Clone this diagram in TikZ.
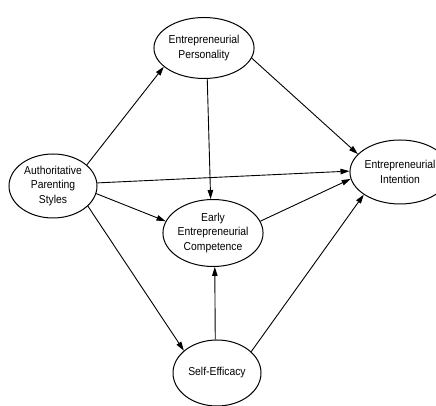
\documentclass[tikz,border=0pt]{standalone}
\usepackage{fontspec}
\setmainfont[FakeStretch=0.9]{Liberation Sans}
\usetikzlibrary{arrows.meta}
\usepgflibrary{shapes.geometric}
\usetikzlibrary{positioning}

\begin{document}
\begin{tikzpicture}
  [x=1pt, y=1pt,
  latent/.style={shape=ellipse, draw=black, line width=1pt,
         inner sep=0pt, minimum width=88pt, minimum height=64pt,
         align=center, font=\fontsize{11.5}{14.5}\selectfont},
  >={Triangle[length=9pt, width=5.5pt]}
  ]
  \useasboundingbox (0,0) rectangle (436,406);
  \clip (0,0) rectangle (436,406);
 \path
   (53, 220)   node (aps)  [latent] {Authoritative\\Parenting\\Styles}
   (204, 358)  node (ep)   [latent, minimum height=61pt] {Entrepreneurial\\Personality}
   (213, 173)  node (eec)  [latent, minimum height=67pt] {Early\\Entrepreneurial\\Competence}
   (217, 33)   node (se)   [latent, minimum height=66pt] {Self-Efficacy}
   (400, 234)  node (ei)   [latent] {Entrepreneurial\\Intention}
   ;
   \begin{scope}[line width=0.9pt]
   \draw [->] (aps.32)  to (ep.205);
   \draw [->] (ep.-12)  to (ei.157);
   \draw [->] (ep.-84)  to (eec.94);
   \draw [->] (aps.4)   to (ei.179);
   \draw [->] (aps.-10) to (eec.166);
   \draw [->] (eec.14)  to (ei.188);
   \draw [->] (aps.-30) to (se.146);
   \draw [->] (se.93)   to (eec.-87);
   \draw [->] (se.32)   to (ei.212);
   \end{scope}

\end{tikzpicture}
\end{document}
